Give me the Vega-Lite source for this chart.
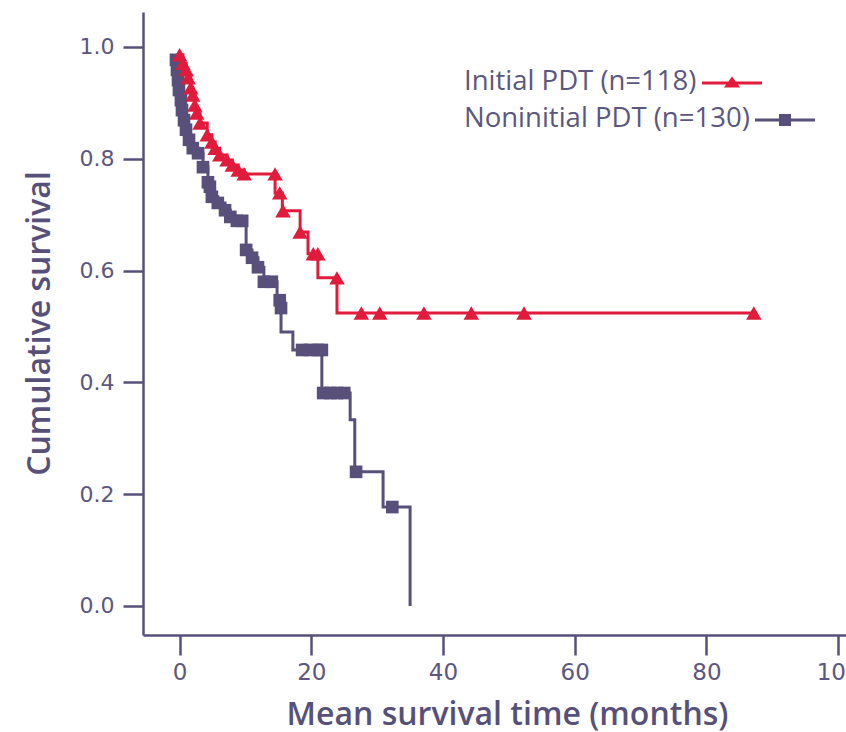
{
  "$schema": "https://vega.github.io/schema/vega-lite/v6.json",
  "width": 703,
  "height": 623,
  "autosize": "none",
  "padding": {"left": 143, "top": 12, "right": 0, "bottom": 97},
  "background": "white",
  "config": {
    "view": {"stroke": null},
    "axis": {
      "domainColor": "#57517a", "domainWidth": 2.5, "tickColor": "#57517a", "tickWidth": 2.5,
      "tickSize": 20, "grid": false, "labelColor": "#5b5780", "labelFont": "DejaVu Sans",
      "titleColor": "#57517a", "titleFont": "Open Sans"
    },
    "legend": {
      "titleFont": "Open Sans", "titleFontSize": 27.5, "titleFontWeight": "normal", "titleColor": "#5b5780",
      "titleOrient": "left", "titleAnchor": "middle", "titleBaseline": "middle", "titlePadding": 4, "titleLimit": 600, "padding": 0,
      "labelOffset": 0, "orient": "none"
    }
  },
  "datasets": {
    "lines": [
      {"group": "Initial PDT (n=118)", "t": 0, "s": 0.986},
      {"group": "Initial PDT (n=118)", "t": 0.5, "s": 0.971},
      {"group": "Initial PDT (n=118)", "t": 1.0, "s": 0.959},
      {"group": "Initial PDT (n=118)", "t": 1.3, "s": 0.945},
      {"group": "Initial PDT (n=118)", "t": 1.7, "s": 0.927},
      {"group": "Initial PDT (n=118)", "t": 2.0, "s": 0.914},
      {"group": "Initial PDT (n=118)", "t": 2.3, "s": 0.896},
      {"group": "Initial PDT (n=118)", "t": 2.6, "s": 0.882},
      {"group": "Initial PDT (n=118)", "t": 3.1, "s": 0.864},
      {"group": "Initial PDT (n=118)", "t": 4.2, "s": 0.843},
      {"group": "Initial PDT (n=118)", "t": 4.9, "s": 0.830},
      {"group": "Initial PDT (n=118)", "t": 5.4, "s": 0.819},
      {"group": "Initial PDT (n=118)", "t": 6.1, "s": 0.807},
      {"group": "Initial PDT (n=118)", "t": 7.2, "s": 0.798},
      {"group": "Initial PDT (n=118)", "t": 8.0, "s": 0.789},
      {"group": "Initial PDT (n=118)", "t": 8.9, "s": 0.780},
      {"group": "Initial PDT (n=118)", "t": 9.8, "s": 0.773},
      {"group": "Initial PDT (n=118)", "t": 14.5, "s": 0.739},
      {"group": "Initial PDT (n=118)", "t": 15.6, "s": 0.707},
      {"group": "Initial PDT (n=118)", "t": 18.3, "s": 0.669},
      {"group": "Initial PDT (n=118)", "t": 19.5, "s": 0.630},
      {"group": "Initial PDT (n=118)", "t": 21.0, "s": 0.587},
      {"group": "Initial PDT (n=118)", "t": 23.9, "s": 0.524},
      {"group": "Initial PDT (n=118)", "t": 87.2, "s": 0.524},
      {"group": "Noninitial PDT (n=130)", "t": -0.55, "s": 0.977},
      {"group": "Noninitial PDT (n=130)", "t": -0.4, "s": 0.959},
      {"group": "Noninitial PDT (n=130)", "t": -0.24, "s": 0.941},
      {"group": "Noninitial PDT (n=130)", "t": -0.1, "s": 0.923},
      {"group": "Noninitial PDT (n=130)", "t": 0.2, "s": 0.905},
      {"group": "Noninitial PDT (n=130)", "t": 0.36, "s": 0.887},
      {"group": "Noninitial PDT (n=130)", "t": 0.67, "s": 0.869},
      {"group": "Noninitial PDT (n=130)", "t": 0.97, "s": 0.852},
      {"group": "Noninitial PDT (n=130)", "t": 1.43, "s": 0.834},
      {"group": "Noninitial PDT (n=130)", "t": 2.0, "s": 0.819},
      {"group": "Noninitial PDT (n=130)", "t": 2.8, "s": 0.810},
      {"group": "Noninitial PDT (n=130)", "t": 3.55, "s": 0.785},
      {"group": "Noninitial PDT (n=130)", "t": 4.3, "s": 0.758},
      {"group": "Noninitial PDT (n=130)", "t": 4.6, "s": 0.750},
      {"group": "Noninitial PDT (n=130)", "t": 4.9, "s": 0.732},
      {"group": "Noninitial PDT (n=130)", "t": 5.8, "s": 0.721},
      {"group": "Noninitial PDT (n=130)", "t": 6.9, "s": 0.708},
      {"group": "Noninitial PDT (n=130)", "t": 7.7, "s": 0.696},
      {"group": "Noninitial PDT (n=130)", "t": 8.7, "s": 0.689},
      {"group": "Noninitial PDT (n=130)", "t": 10.1, "s": 0.637},
      {"group": "Noninitial PDT (n=130)", "t": 11.0, "s": 0.623},
      {"group": "Noninitial PDT (n=130)", "t": 11.9, "s": 0.606},
      {"group": "Noninitial PDT (n=130)", "t": 12.8, "s": 0.580},
      {"group": "Noninitial PDT (n=130)", "t": 14.8, "s": 0.547},
      {"group": "Noninitial PDT (n=130)", "t": 15.4, "s": 0.490},
      {"group": "Noninitial PDT (n=130)", "t": 17.2, "s": 0.458},
      {"group": "Noninitial PDT (n=130)", "t": 21.6, "s": 0.381},
      {"group": "Noninitial PDT (n=130)", "t": 25.9, "s": 0.333},
      {"group": "Noninitial PDT (n=130)", "t": 26.6, "s": 0.240},
      {"group": "Noninitial PDT (n=130)", "t": 30.9, "s": 0.177},
      {"group": "Noninitial PDT (n=130)", "t": 35.0, "s": 0.0}
    ],
    "marks": [
      {"group": "Initial PDT (n=118)", "t": 0, "s": 0.986},
      {"group": "Initial PDT (n=118)", "t": 0.5, "s": 0.971},
      {"group": "Initial PDT (n=118)", "t": 1.0, "s": 0.959},
      {"group": "Initial PDT (n=118)", "t": 1.3, "s": 0.945},
      {"group": "Initial PDT (n=118)", "t": 1.7, "s": 0.927},
      {"group": "Initial PDT (n=118)", "t": 2.0, "s": 0.914},
      {"group": "Initial PDT (n=118)", "t": 2.3, "s": 0.896},
      {"group": "Initial PDT (n=118)", "t": 2.6, "s": 0.882},
      {"group": "Initial PDT (n=118)", "t": 3.1, "s": 0.864},
      {"group": "Initial PDT (n=118)", "t": 4.2, "s": 0.843},
      {"group": "Initial PDT (n=118)", "t": 4.9, "s": 0.830},
      {"group": "Initial PDT (n=118)", "t": 5.4, "s": 0.819},
      {"group": "Initial PDT (n=118)", "t": 6.1, "s": 0.807},
      {"group": "Initial PDT (n=118)", "t": 7.2, "s": 0.798},
      {"group": "Initial PDT (n=118)", "t": 8.0, "s": 0.789},
      {"group": "Initial PDT (n=118)", "t": 8.9, "s": 0.780},
      {"group": "Initial PDT (n=118)", "t": 9.8, "s": 0.773},
      {"group": "Initial PDT (n=118)", "t": 14.5, "s": 0.773},
      {"group": "Initial PDT (n=118)", "t": 15.2, "s": 0.739},
      {"group": "Initial PDT (n=118)", "t": 15.7, "s": 0.707},
      {"group": "Initial PDT (n=118)", "t": 18.3, "s": 0.669},
      {"group": "Initial PDT (n=118)", "t": 20.3, "s": 0.630},
      {"group": "Initial PDT (n=118)", "t": 21.0, "s": 0.630},
      {"group": "Initial PDT (n=118)", "t": 23.9, "s": 0.587},
      {"group": "Initial PDT (n=118)", "t": 27.6, "s": 0.524},
      {"group": "Initial PDT (n=118)", "t": 30.4, "s": 0.524},
      {"group": "Initial PDT (n=118)", "t": 37.1, "s": 0.524},
      {"group": "Initial PDT (n=118)", "t": 44.3, "s": 0.524},
      {"group": "Initial PDT (n=118)", "t": 52.3, "s": 0.524},
      {"group": "Initial PDT (n=118)", "t": 87.2, "s": 0.524},
      {"group": "Noninitial PDT (n=130)", "t": -0.55, "s": 0.977},
      {"group": "Noninitial PDT (n=130)", "t": -0.4, "s": 0.959},
      {"group": "Noninitial PDT (n=130)", "t": -0.24, "s": 0.941},
      {"group": "Noninitial PDT (n=130)", "t": -0.1, "s": 0.923},
      {"group": "Noninitial PDT (n=130)", "t": 0.2, "s": 0.905},
      {"group": "Noninitial PDT (n=130)", "t": 0.36, "s": 0.887},
      {"group": "Noninitial PDT (n=130)", "t": 0.67, "s": 0.869},
      {"group": "Noninitial PDT (n=130)", "t": 0.97, "s": 0.852},
      {"group": "Noninitial PDT (n=130)", "t": 1.43, "s": 0.834},
      {"group": "Noninitial PDT (n=130)", "t": 2.0, "s": 0.819},
      {"group": "Noninitial PDT (n=130)", "t": 2.8, "s": 0.810},
      {"group": "Noninitial PDT (n=130)", "t": 3.55, "s": 0.785},
      {"group": "Noninitial PDT (n=130)", "t": 4.3, "s": 0.758},
      {"group": "Noninitial PDT (n=130)", "t": 4.6, "s": 0.750},
      {"group": "Noninitial PDT (n=130)", "t": 4.9, "s": 0.732},
      {"group": "Noninitial PDT (n=130)", "t": 5.8, "s": 0.721},
      {"group": "Noninitial PDT (n=130)", "t": 6.9, "s": 0.708},
      {"group": "Noninitial PDT (n=130)", "t": 7.7, "s": 0.696},
      {"group": "Noninitial PDT (n=130)", "t": 8.7, "s": 0.689},
      {"group": "Noninitial PDT (n=130)", "t": 9.5, "s": 0.689},
      {"group": "Noninitial PDT (n=130)", "t": 10.1, "s": 0.637},
      {"group": "Noninitial PDT (n=130)", "t": 11.0, "s": 0.623},
      {"group": "Noninitial PDT (n=130)", "t": 11.9, "s": 0.606},
      {"group": "Noninitial PDT (n=130)", "t": 12.8, "s": 0.580},
      {"group": "Noninitial PDT (n=130)", "t": 14.0, "s": 0.580},
      {"group": "Noninitial PDT (n=130)", "t": 15.2, "s": 0.547},
      {"group": "Noninitial PDT (n=130)", "t": 15.4, "s": 0.533},
      {"group": "Noninitial PDT (n=130)", "t": 18.6, "s": 0.458},
      {"group": "Noninitial PDT (n=130)", "t": 19.8, "s": 0.458},
      {"group": "Noninitial PDT (n=130)", "t": 21.0, "s": 0.458},
      {"group": "Noninitial PDT (n=130)", "t": 21.6, "s": 0.458},
      {"group": "Noninitial PDT (n=130)", "t": 21.8, "s": 0.381},
      {"group": "Noninitial PDT (n=130)", "t": 22.9, "s": 0.381},
      {"group": "Noninitial PDT (n=130)", "t": 23.9, "s": 0.381},
      {"group": "Noninitial PDT (n=130)", "t": 25.0, "s": 0.381},
      {"group": "Noninitial PDT (n=130)", "t": 26.8, "s": 0.240},
      {"group": "Noninitial PDT (n=130)", "t": 32.3, "s": 0.177}
    ]
  },
  "encoding": {
    "x": {
      "field": "t", "type": "quantitative",
      "scale": {"domain": [-5.56, 101.2], "nice": false, "zero": false},
      "axis": {
        "values": [0, 20, 40, 60, 80, 100], "title": "Mean survival time (months)",
        "labelFontSize": 23, "labelPadding": 6, "titleFontSize": 32, "titleFontWeight": 600,
        "titleX": 364, "titleY": 89, "titleAlign": "center", "titleBaseline": "alphabetic"
      }
    },
    "y": {
      "field": "s", "type": "quantitative",
      "scale": {"domain": [-0.0519, 1.0626], "nice": false, "zero": false},
      "axis": {
        "values": [0, 0.2, 0.4, 0.6, 0.8, 1.0], "format": ".1f", "title": "Cumulative survival",
        "labelFontSize": 22, "labelPadding": 9, "titleFontSize": 32, "titleFontWeight": 600,
        "titleX": -104, "titleY": 311, "titleAngle": -90, "titleAlign": "center", "titleBaseline": "middle"
      }
    }
  },
  "layer": [
    {
      "data": {"name": "lines"},
      "transform": [{"filter": "datum.group === 'Noninitial PDT (n=130)'"}],
      "mark": {"type": "line", "interpolate": "step-after", "color": "#58507a", "strokeWidth": 3}
    },
    {
      "data": {"name": "marks"},
      "transform": [{"filter": "datum.group === 'Noninitial PDT (n=130)'"}],
      "mark": {"type": "point", "shape": "square", "filled": true, "size": 160, "opacity": 1},
      "encoding": {
        "color": {
          "field": "group", "type": "nominal",
          "scale": {"domain": ["Noninitial PDT (n=130)"], "range": ["#58507a"]},
          "legend": {
            "title": "Noninitial PDT (n=130)", "legendX": 321, "legendY": 89, "labelExpr": "''",
            "symbolType": "M-1,-0.45H1V-0.35H-1ZM-0.2,-0.6H0.2V-0.2H-0.2Z", "symbolSize": 3600,
            "encode": {"symbols": {"shape": {"value": "M-1,-0.45H1V-0.35H-1ZM-0.2,-0.6H0.2V-0.2H-0.2Z"}, "size": {"value": 3600}, "fill": {"value": "#58507a"}, "opacity": {"value": 1}}}
          }
        }
      }
    },
    {
      "data": {"name": "lines"},
      "transform": [{"filter": "datum.group === 'Initial PDT (n=118)'"}],
      "mark": {"type": "line", "interpolate": "step-after", "color": "#e11b3b", "strokeWidth": 3}
    },
    {
      "data": {"name": "marks"},
      "transform": [{"filter": "datum.group === 'Initial PDT (n=118)'"}],
      "mark": {"type": "point", "shape": "triangle-up", "filled": true, "size": 240, "opacity": 1},
      "encoding": {
        "color": {
          "field": "group", "type": "nominal",
          "scale": {"domain": ["Initial PDT (n=118)"], "range": ["#e11b3b"]},
          "legend": {
            "title": "Initial PDT (n=118)", "legendX": 321, "legendY": 52, "labelExpr": "''",
            "symbolType": "M-1,-0.45H1V-0.35H-1ZM0,-0.62L0.27,-0.25L-0.27,-0.25Z", "symbolSize": 3600,
            "encode": {"symbols": {"shape": {"value": "M-1,-0.45H1V-0.35H-1ZM0,-0.62L0.27,-0.25L-0.27,-0.25Z"}, "size": {"value": 3600}, "fill": {"value": "#e11b3b"}, "opacity": {"value": 1}}}
          }
        }
      }
    }
  ],
  "resolve": {"scale": {"color": "independent"}, "legend": {"color": "independent"}}
}
